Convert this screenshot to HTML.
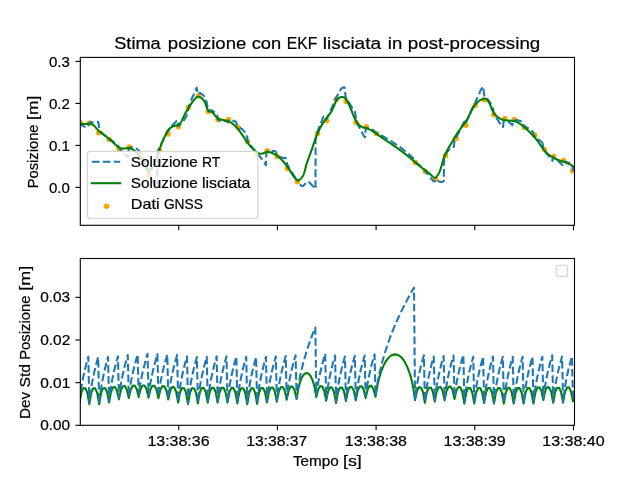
<!DOCTYPE html>
<html><head><meta charset="utf-8"><title>Stima posizione con EKF</title>
<style>html,body{margin:0;padding:0;background:#fff;overflow:hidden}svg{display:block}text{font-family:"Liberation Sans",sans-serif;fill:#000}.tx{filter:grayscale(1)}</style></head><body>
<svg width="638" height="478" viewBox="0 0 638 478">
<rect x="0" y="0" width="638" height="478" fill="#ffffff"/>
<defs>
<clipPath id="c1"><rect x="80.3" y="57.4" width="494.2" height="167.9"/></clipPath>
<clipPath id="c2"><rect x="80.3" y="258.5" width="494.2" height="166.8"/></clipPath>
</defs>
<g clip-path="url(#c1)" fill="none" stroke-linejoin="round">
<g fill="#ffa500" stroke="none">
<circle cx="80.30" cy="122.70" r="2.75"/>
<circle cx="89.40" cy="123.00" r="2.75"/>
<circle cx="98.70" cy="132.70" r="2.75"/>
<circle cx="109.10" cy="139.50" r="2.75"/>
<circle cx="119.00" cy="148.90" r="2.75"/>
<circle cx="129.30" cy="147.00" r="2.75"/>
<circle cx="140.00" cy="154.20" r="2.75"/>
<circle cx="149.30" cy="175.10" r="2.75"/>
<circle cx="159.50" cy="150.40" r="2.75"/>
<circle cx="168.10" cy="133.90" r="2.75"/>
<circle cx="178.50" cy="126.80" r="2.75"/>
<circle cx="188.40" cy="107.60" r="2.75"/>
<circle cx="198.60" cy="95.80" r="2.75"/>
<circle cx="208.10" cy="111.40" r="2.75"/>
<circle cx="218.00" cy="119.70" r="2.75"/>
<circle cx="228.60" cy="119.50" r="2.75"/>
<circle cx="238.10" cy="127.50" r="2.75"/>
<circle cx="247.40" cy="141.50" r="2.75"/>
<circle cx="256.80" cy="154.70" r="2.75"/>
<circle cx="267.30" cy="150.80" r="2.75"/>
<circle cx="277.20" cy="156.40" r="2.75"/>
<circle cx="287.30" cy="168.50" r="2.75"/>
<circle cx="297.40" cy="181.70" r="2.75"/>
<circle cx="317.60" cy="133.40" r="2.75"/>
<circle cx="326.70" cy="120.80" r="2.75"/>
<circle cx="336.20" cy="99.40" r="2.75"/>
<circle cx="346.10" cy="101.60" r="2.75"/>
<circle cx="356.00" cy="122.40" r="2.75"/>
<circle cx="366.40" cy="126.80" r="2.75"/>
<circle cx="376.30" cy="133.60" r="2.75"/>
<circle cx="415.30" cy="162.40" r="2.75"/>
<circle cx="425.20" cy="171.40" r="2.75"/>
<circle cx="435.80" cy="179.50" r="2.75"/>
<circle cx="445.50" cy="155.40" r="2.75"/>
<circle cx="456.20" cy="138.60" r="2.75"/>
<circle cx="465.80" cy="125.30" r="2.75"/>
<circle cx="475.30" cy="105.30" r="2.75"/>
<circle cx="484.20" cy="100.10" r="2.75"/>
<circle cx="493.80" cy="114.70" r="2.75"/>
<circle cx="504.80" cy="118.50" r="2.75"/>
<circle cx="514.30" cy="119.40" r="2.75"/>
<circle cx="524.30" cy="127.60" r="2.75"/>
<circle cx="534.80" cy="135.10" r="2.75"/>
<circle cx="544.30" cy="149.40" r="2.75"/>
<circle cx="553.70" cy="156.60" r="2.75"/>
<circle cx="563.60" cy="160.40" r="2.75"/>
<circle cx="572.60" cy="170.80" r="2.75"/>
</g>
<path d="M79.00,123.90 L81.30,125.10 L85.49,127.10 M88.33,126.32 L89.20,122.40 M89.20,122.40 L93.60,122.20 M96.89,121.91 L98.20,121.80 L99.30,128.05 M100.59,131.05 L101.50,132.60 L106.08,136.26 M108.66,138.33 L109.00,138.60 L114.77,142.95 M117.42,144.94 L117.50,145.00 L118.60,146.50 L120.80,150.10 L121.79,151.19 M124.05,153.62 L128.00,157.10 L128.20,154.72 M128.49,151.42 L128.80,147.80 L132.80,147.32 M135.92,148.20 L138.60,150.30 L139.60,152.50 L140.63,154.02 M142.49,156.76 L143.00,157.50 L145.43,163.81 M146.61,166.90 L148.00,170.50 L149.20,174.00 L149.24,174.09 M150.64,177.09 L152.00,180.00 L153.86,184.04 M155.37,186.99 L157.00,190.00 M157.03,188.20 L157.17,180.54 M157.24,177.23 L157.38,169.57 M157.44,166.26 L157.58,158.61 M157.64,155.30 L157.70,152.00 L159.00,149.00 L159.47,148.01 M160.88,145.02 L163.00,140.50 L164.19,138.11 M165.67,135.15 L167.50,131.50 L168.30,131.00 L169.78,128.82 M171.64,126.08 L171.90,125.70 L176.80,120.80 L177.01,120.64 M177.89,122.76 L178.30,126.30 L181.00,123.50 L181.14,123.35 M183.38,120.91 L184.50,119.70 L187.30,114.38 M187.78,111.12 L188.10,108.50 L189.85,103.79 M191.00,100.69 L191.70,98.80 L194.19,93.73 M195.46,90.68 L196.70,87.60 L197.41,91.88 M198.62,93.69 L199.90,92.90 L202.50,94.40 L204.50,96.83 M205.82,99.84 L206.50,101.60 L207.30,105.80 L207.49,107.29 M207.90,110.58 L207.90,110.60 L212.00,110.30 L214.66,112.61 M216.99,114.96 L217.20,115.20 L217.70,119.20 L220.45,121.03 M223.70,121.02 L224.00,121.00 L226.60,121.30 L228.00,122.60 L228.60,120.30 L229.06,120.30 M232.35,120.42 L235.90,121.70 L237.34,125.31 M239.63,127.54 L240.00,127.80 L242.50,129.40 L245.24,132.63 M246.98,135.33 L247.60,141.00 L248.73,142.60 M250.64,145.30 L251.00,145.80 L255.35,151.34 M257.15,154.10 L257.20,154.20 L259.30,155.90 L262.33,159.68 M264.26,162.36 L265.90,165.20 L266.06,160.82 M266.19,157.51 L266.40,151.80 L268.29,151.34 M271.55,150.92 L272.00,150.90 L274.70,151.00 L276.10,152.00 L276.78,154.71 M279.16,156.63 L279.50,156.80 L281.80,157.60 L285.70,158.10 L286.11,158.92 M286.73,162.14 L286.90,163.50 L288.50,167.00 L289.79,169.07 M291.55,171.87 L292.00,172.60 L295.66,178.34 M297.38,181.16 L297.40,181.20 M297.40,181.20 L297.79,181.73 M299.75,184.40 L299.90,184.60 M299.90,184.60 L301.40,185.80 L302.80,186.10 L304.30,185.00 L305.61,182.94 M308.32,181.81 L309.00,182.00 M309.00,182.00 L312.00,185.30 L313.98,187.28 M315.50,187.80 L315.52,180.34 M315.52,177.03 L315.54,169.37 M315.54,166.06 L315.56,158.40 M315.57,155.09 L315.58,147.43 M315.59,144.12 L315.60,138.50 L316.16,136.54 M317.08,133.36 L318.50,128.50 L319.55,126.12 M320.88,123.09 L321.40,121.90 L323.60,116.40 L324.03,116.44 M326.01,118.29 L326.30,119.50 L329.00,114.00 L329.12,113.74 M330.46,110.71 L333.00,105.00 L333.53,103.70 M334.78,100.63 L335.60,98.60 L336.20,97.40 L337.90,94.40 L338.20,93.79 M339.81,90.90 L341.00,89.00 L342.60,87.60 L344.40,87.40 L345.00,88.30 L345.02,88.70 M345.23,92.00 L345.50,96.50 L346.10,98.80 L346.56,99.42 M348.55,102.07 L349.40,103.20 L352.10,107.60 L352.72,108.49 M354.62,111.20 L354.90,111.60 L355.90,117.20 L356.24,118.64 M356.99,121.87 L357.60,124.50 L360.09,128.79 M361.63,131.72 L363.60,135.60 L365.00,137.20 L365.09,136.03 M365.33,132.73 L365.60,129.00 L366.40,127.80 L368.79,128.46 M371.93,129.52 L373.20,130.00 L375.30,132.00 L376.30,133.00 L378.09,133.85 M381.08,135.27 L382.00,135.70 L387.71,139.10 M390.55,140.80 L391.40,141.30 L396.95,145.02 M399.69,146.86 L400.80,147.60 L405.65,151.67 M408.18,153.80 L408.30,153.90 L413.96,158.82 M415.21,161.81 L419.00,164.80 L421.15,166.64 M423.67,168.79 L424.50,169.50 L425.30,171.00 L428.00,174.60 L428.23,174.89 M430.28,177.49 L431.00,178.40 L434.20,182.20 M434.20,182.20 L434.97,179.97 M437.59,181.12 L441.90,182.20 L443.80,181.00 L443.81,180.03 M443.84,176.72 L443.90,169.06 M443.93,165.75 L443.99,158.10 M445.12,155.05 L447.90,151.00 L449.84,149.06 M452.71,147.43 L453.90,146.80 L454.50,140.80 L454.63,140.55 M456.14,137.61 L458.00,134.00 L459.63,130.79 M461.13,127.83 L461.40,127.30 L463.60,122.80 L464.60,121.50 L464.71,121.90 M465.76,122.97 L468.00,118.00 L468.87,115.97 M470.17,112.93 L471.00,111.00 L473.37,105.97 M474.98,104.33 L476.20,100.10 L477.68,97.20 M479.14,94.23 L480.60,90.20 L482.44,87.37 M483.38,88.74 L483.60,90.00 L484.32,96.34 M486.60,98.47 L486.80,98.60 L488.80,100.60 L491.19,104.53 M492.58,107.52 L493.00,108.50 L493.80,113.40 L494.57,114.84 M496.16,117.74 L498.40,121.00 L500.41,124.11 M502.41,126.68 L503.00,127.00 L503.70,121.20 L504.83,121.36 M508.08,121.99 L509.30,122.30 L512.40,125.20 L512.99,123.13 M514.37,120.47 L516.80,120.00 L521.74,121.59 M523.39,123.94 L523.80,126.00 L527.50,127.90 L528.68,128.66 M531.42,130.51 L533.20,132.20 L533.90,135.50 L535.19,136.79 M537.61,139.05 L540.00,140.80 L542.60,142.80 M542.60,142.80 L543.30,148.20 L543.31,148.21 M544.86,151.14 L545.00,151.40 L548.80,156.20 L549.94,156.68 M551.74,159.26 L552.50,160.90 L553.20,156.90 L554.61,158.00 M557.22,160.04 L558.20,160.80 L562.00,164.80 L562.70,165.00 L562.72,164.83 M563.19,161.55 L563.20,161.50 L565.50,161.80 L567.70,162.30 L570.40,163.69 M572.37,165.97 L572.90,169.60 L575.82,172.33" stroke="#1f77b4" stroke-width="2.07"/>
<path d="M78.06,123.79 L78.60,123.78 L79.16,123.79 L79.73,123.81 L80.32,123.84 L80.91,123.87 L81.51,123.90 L82.12,123.93 L82.73,123.96 L83.35,123.98 L83.97,123.99 L84.60,123.99 L85.22,123.98 L85.84,123.95 L86.45,123.90 L87.06,123.85 L87.67,123.80 L88.26,123.76 L88.85,123.73 L89.43,123.72 L89.99,123.74 L90.54,123.80 L91.07,123.91 L91.59,124.06 L92.09,124.28 L92.57,124.54 L93.04,124.85 L93.49,125.20 L93.94,125.58 L94.37,126.00 L94.80,126.44 L95.23,126.90 L95.64,127.37 L96.06,127.86 L96.48,128.35 L96.89,128.85 L97.31,129.34 L97.74,129.81 L98.17,130.28 L98.61,130.72 L99.06,131.15 L99.51,131.56 L99.97,131.95 L100.43,132.33 L100.90,132.70 L101.37,133.06 L101.84,133.42 L102.32,133.76 L102.80,134.10 L103.28,134.44 L103.75,134.78 L104.23,135.11 L104.71,135.45 L105.18,135.79 L105.65,136.14 L106.12,136.49 L106.59,136.85 L107.05,137.22 L107.51,137.58 L107.97,137.96 L108.42,138.34 L108.87,138.72 L109.33,139.10 L109.78,139.49 L110.23,139.89 L110.68,140.28 L111.13,140.69 L111.57,141.09 L112.02,141.50 L112.47,141.90 L112.92,142.32 L113.37,142.73 L113.82,143.14 L114.27,143.56 L114.72,143.98 L115.17,144.40 L115.63,144.82 L116.08,145.24 L116.54,145.66 L117.01,146.07 L117.48,146.47 L117.95,146.85 L118.43,147.21 L118.93,147.53 L119.43,147.83 L119.94,148.08 L120.47,148.30 L121.00,148.46 L121.56,148.57 L122.13,148.62 L122.71,148.63 L123.30,148.61 L123.90,148.56 L124.51,148.49 L125.12,148.41 L125.74,148.32 L126.36,148.25 L126.98,148.18 L127.60,148.14 L128.21,148.13 L128.82,148.15 L129.42,148.23 L130.01,148.34 L130.59,148.50 L131.16,148.69 L131.71,148.92 L132.25,149.17 L132.77,149.46 L133.27,149.77 L133.76,150.10 L134.24,150.45 L134.71,150.83 L135.16,151.22 L135.60,151.63 L136.04,152.05 L136.46,152.49 L136.88,152.94 L137.28,153.39 L137.69,153.85 L138.08,154.32 L138.47,154.79 L138.86,155.26 L139.24,155.73 L139.62,156.20 L140.00,156.66 L140.37,157.11 L140.75,157.56 L141.13,158.00 L141.50,158.44 L141.87,158.88 L142.23,159.32 L142.59,159.77 L142.93,160.24 L143.27,160.72 L143.59,161.22 L143.90,161.75 L144.19,162.31 L144.47,162.89 L144.72,163.52 L144.95,164.18 L145.17,164.88 L145.37,165.59 L145.57,166.31 L145.77,167.01 L145.98,167.68 L146.20,168.31 L146.43,168.89 L146.70,169.39 L146.99,169.81 L147.32,170.13 L147.69,170.33 L148.11,170.40 L148.58,170.35 L149.08,170.17 L149.60,169.91 L150.14,169.56 L150.68,169.14 L151.20,168.68 L151.70,168.20 L152.17,167.69 L152.59,167.19 L152.98,166.67 L153.34,166.16 L153.67,165.63 L153.98,165.11 L154.26,164.57 L154.52,164.04 L154.77,163.50 L155.00,162.95 L155.23,162.40 L155.45,161.85 L155.66,161.30 L155.87,160.75 L156.08,160.19 L156.27,159.63 L156.47,159.06 L156.66,158.50 L156.85,157.94 L157.04,157.37 L157.22,156.80 L157.41,156.24 L157.59,155.67 L157.76,155.11 L157.94,154.54 L158.12,153.97 L158.29,153.41 L158.47,152.84 L158.65,152.28 L158.82,151.72 L159.00,151.15 L159.18,150.59 L159.36,150.03 L159.54,149.47 L159.72,148.91 L159.91,148.34 L160.09,147.78 L160.28,147.22 L160.48,146.66 L160.67,146.10 L160.87,145.54 L161.08,144.97 L161.29,144.41 L161.50,143.85 L161.72,143.29 L161.94,142.73 L162.17,142.16 L162.40,141.60 L162.64,141.04 L162.89,140.47 L163.14,139.91 L163.40,139.34 L163.66,138.78 L163.93,138.21 L164.21,137.65 L164.48,137.09 L164.76,136.53 L165.02,135.97 L165.29,135.42 L165.54,134.87 L165.79,134.33 L166.04,133.80 L166.28,133.27 L166.53,132.75 L166.78,132.24 L167.05,131.74 L167.33,131.25 L167.64,130.78 L167.96,130.31 L168.32,129.86 L168.70,129.42 L169.11,129.00 L169.54,128.59 L170.00,128.20 L170.48,127.83 L170.98,127.49 L171.50,127.16 L172.03,126.86 L172.58,126.58 L173.14,126.33 L173.72,126.11 L174.31,125.92 L174.90,125.75 L175.50,125.62 L176.10,125.49 L176.69,125.36 L177.26,125.21 L177.80,125.02 L178.31,124.79 L178.79,124.50 L179.23,124.17 L179.65,123.80 L180.04,123.38 L180.41,122.94 L180.76,122.46 L181.09,121.95 L181.40,121.42 L181.70,120.88 L181.98,120.31 L182.26,119.74 L182.53,119.16 L182.79,118.57 L183.06,117.99 L183.32,117.41 L183.59,116.84 L183.85,116.28 L184.13,115.72 L184.40,115.18 L184.68,114.64 L184.96,114.10 L185.24,113.58 L185.52,113.05 L185.81,112.54 L186.10,112.03 L186.39,111.52 L186.68,111.02 L186.98,110.52 L187.27,110.02 L187.57,109.53 L187.87,109.03 L188.17,108.54 L188.47,108.06 L188.78,107.57 L189.08,107.08 L189.39,106.59 L189.70,106.11 L190.01,105.62 L190.33,105.13 L190.65,104.64 L190.98,104.15 L191.31,103.65 L191.65,103.15 L192.00,102.65 L192.35,102.15 L192.72,101.64 L193.09,101.14 L193.48,100.64 L193.87,100.14 L194.28,99.65 L194.70,99.18 L195.13,98.71 L195.58,98.26 L196.04,97.83 L196.51,97.44 L197.00,97.11 L197.50,96.85 L198.02,96.69 L198.56,96.65 L199.11,96.73 L199.67,96.90 L200.23,97.17 L200.79,97.51 L201.33,97.92 L201.86,98.37 L202.37,98.86 L202.84,99.38 L203.29,99.90 L203.69,100.42 L204.05,100.93 L204.37,101.41 L204.64,101.88 L204.88,102.34 L205.09,102.79 L205.28,103.25 L205.46,103.73 L205.63,104.23 L205.81,104.76 L205.99,105.32 L206.19,105.91 L206.40,106.52 L206.62,107.13 L206.86,107.76 L207.12,108.37 L207.39,108.97 L207.68,109.55 L208.00,110.09 L208.33,110.59 L208.70,111.01 L209.08,111.36 L209.50,111.60 L209.94,111.74 L210.40,111.81 L210.87,111.87 L211.33,111.98 L211.78,112.17 L212.22,112.43 L212.65,112.76 L213.08,113.15 L213.49,113.58 L213.91,114.05 L214.32,114.55 L214.73,115.05 L215.15,115.56 L215.56,116.07 L215.99,116.56 L216.42,117.02 L216.86,117.44 L217.31,117.83 L217.77,118.18 L218.25,118.50 L218.75,118.78 L219.26,119.03 L219.80,119.25 L220.35,119.43 L220.92,119.59 L221.51,119.72 L222.11,119.84 L222.72,119.95 L223.33,120.05 L223.94,120.15 L224.56,120.26 L225.16,120.37 L225.77,120.49 L226.36,120.64 L226.94,120.80 L227.50,120.98 L228.06,121.18 L228.61,121.40 L229.15,121.63 L229.67,121.89 L230.19,122.15 L230.70,122.44 L231.19,122.74 L231.68,123.05 L232.16,123.38 L232.64,123.72 L233.10,124.08 L233.56,124.44 L234.00,124.82 L234.44,125.21 L234.88,125.61 L235.30,126.03 L235.72,126.45 L236.14,126.88 L236.54,127.32 L236.95,127.77 L237.34,128.22 L237.73,128.68 L238.12,129.15 L238.50,129.63 L238.87,130.11 L239.24,130.60 L239.61,131.09 L239.97,131.58 L240.33,132.08 L240.69,132.58 L241.04,133.08 L241.39,133.59 L241.74,134.09 L242.09,134.60 L242.43,135.10 L242.77,135.61 L243.12,136.12 L243.45,136.62 L243.79,137.13 L244.13,137.63 L244.47,138.14 L244.81,138.64 L245.15,139.14 L245.49,139.64 L245.83,140.14 L246.17,140.63 L246.52,141.12 L246.86,141.61 L247.21,142.10 L247.56,142.58 L247.92,143.06 L248.28,143.54 L248.64,144.01 L249.00,144.48 L249.37,144.94 L249.75,145.40 L250.13,145.86 L250.51,146.30 L250.90,146.75 L251.30,147.19 L251.70,147.62 L252.11,148.05 L252.53,148.47 L252.95,148.88 L253.38,149.29 L253.82,149.69 L254.26,150.08 L254.72,150.47 L255.18,150.85 L255.65,151.22 L256.13,151.58 L256.63,151.93 L257.13,152.28 L257.64,152.61 L258.16,152.94 L258.69,153.23 L259.23,153.48 L259.78,153.67 L260.34,153.77 L260.91,153.78 L261.48,153.71 L262.05,153.57 L262.64,153.40 L263.22,153.20 L263.81,152.98 L264.41,152.77 L265.00,152.58 L265.60,152.40 L266.20,152.25 L266.80,152.14 L267.39,152.07 L267.99,152.05 L268.59,152.07 L269.18,152.14 L269.77,152.24 L270.36,152.38 L270.94,152.55 L271.51,152.75 L272.08,152.97 L272.65,153.22 L273.20,153.48 L273.75,153.76 L274.29,154.05 L274.82,154.35 L275.35,154.67 L275.86,154.99 L276.37,155.32 L276.86,155.66 L277.35,156.01 L277.83,156.37 L278.31,156.73 L278.77,157.11 L279.23,157.49 L279.68,157.88 L280.13,158.28 L280.57,158.69 L281.00,159.10 L281.42,159.52 L281.84,159.94 L282.25,160.37 L282.66,160.81 L283.06,161.26 L283.45,161.70 L283.84,162.16 L284.23,162.62 L284.61,163.08 L284.98,163.55 L285.35,164.02 L285.71,164.49 L286.07,164.97 L286.43,165.45 L286.78,165.94 L287.13,166.43 L287.47,166.92 L287.81,167.41 L288.15,167.90 L288.48,168.40 L288.81,168.89 L289.14,169.39 L289.47,169.89 L289.79,170.39 L290.11,170.89 L290.43,171.39 L290.74,171.89 L291.06,172.39 L291.37,172.89 L291.69,173.39 L292.01,173.89 L292.34,174.38 L292.67,174.88 L293.00,175.37 L293.35,175.86 L293.70,176.35 L294.07,176.84 L294.45,177.32 L294.84,177.80 L295.25,178.28 L295.67,178.75 L296.11,179.23 L296.57,179.68 L297.05,180.04 L297.55,180.27 L298.06,180.32 L298.59,180.21 L299.12,179.98 L299.64,179.65 L300.15,179.25 L300.63,178.82 L301.08,178.36 L301.49,177.90 L301.87,177.42 L302.23,176.93 L302.56,176.42 L302.86,175.91 L303.14,175.38 L303.40,174.85 L303.64,174.31 L303.86,173.76 L304.07,173.20 L304.26,172.64 L304.44,172.07 L304.61,171.50 L304.77,170.92 L304.92,170.34 L305.07,169.76 L305.21,169.17 L305.35,168.59 L305.49,168.00 L305.64,167.41 L305.78,166.83 L305.94,166.24 L306.09,165.66 L306.26,165.08 L306.43,164.50 L306.61,163.92 L306.79,163.35 L306.97,162.78 L307.16,162.20 L307.36,161.63 L307.56,161.07 L307.76,160.50 L307.96,159.93 L308.17,159.37 L308.38,158.80 L308.59,158.24 L308.80,157.67 L309.01,157.11 L309.23,156.55 L309.44,155.98 L309.65,155.42 L309.86,154.86 L310.07,154.29 L310.28,153.73 L310.49,153.17 L310.69,152.60 L310.89,152.03 L311.09,151.47 L311.29,150.90 L311.49,150.34 L311.68,149.77 L311.88,149.20 L312.07,148.63 L312.26,148.07 L312.45,147.50 L312.64,146.93 L312.83,146.36 L313.02,145.80 L313.21,145.23 L313.40,144.66 L313.59,144.10 L313.78,143.53 L313.98,142.96 L314.17,142.40 L314.36,141.83 L314.56,141.27 L314.76,140.71 L314.95,140.14 L315.16,139.58 L315.36,139.02 L315.56,138.46 L315.77,137.90 L315.98,137.34 L316.20,136.78 L316.41,136.23 L316.63,135.67 L316.85,135.12 L317.08,134.57 L317.31,134.02 L317.54,133.47 L317.78,132.92 L318.02,132.37 L318.26,131.83 L318.51,131.28 L318.76,130.74 L319.02,130.20 L319.28,129.67 L319.55,129.13 L319.82,128.60 L320.09,128.06 L320.37,127.53 L320.65,127.01 L320.94,126.48 L321.23,125.96 L321.53,125.44 L321.83,124.92 L322.14,124.40 L322.45,123.89 L322.77,123.38 L323.09,122.87 L323.42,122.37 L323.75,121.86 L324.09,121.36 L324.44,120.87 L324.79,120.37 L325.15,119.88 L325.51,119.39 L325.88,118.91 L326.25,118.42 L326.62,117.94 L326.99,117.46 L327.37,116.98 L327.74,116.50 L328.12,116.02 L328.49,115.55 L328.85,115.07 L329.22,114.59 L329.57,114.10 L329.92,113.62 L330.26,113.14 L330.60,112.65 L330.92,112.16 L331.23,111.66 L331.53,111.17 L331.82,110.67 L332.09,110.16 L332.35,109.65 L332.60,109.14 L332.84,108.62 L333.08,108.09 L333.30,107.56 L333.53,107.02 L333.75,106.47 L333.98,105.92 L334.21,105.36 L334.44,104.79 L334.69,104.21 L334.94,103.62 L335.20,103.04 L335.47,102.45 L335.76,101.88 L336.07,101.31 L336.40,100.76 L336.74,100.23 L337.11,99.73 L337.50,99.25 L337.92,98.81 L338.36,98.41 L338.83,98.05 L339.34,97.74 L339.87,97.48 L340.44,97.28 L341.02,97.13 L341.62,97.04 L342.21,97.02 L342.80,97.06 L343.38,97.16 L343.94,97.34 L344.46,97.59 L344.95,97.91 L345.39,98.30 L345.79,98.76 L346.15,99.27 L346.49,99.82 L346.80,100.39 L347.10,100.96 L347.39,101.54 L347.68,102.10 L347.96,102.66 L348.23,103.21 L348.49,103.76 L348.75,104.31 L349.00,104.85 L349.25,105.38 L349.50,105.91 L349.74,106.45 L349.97,106.98 L350.20,107.50 L350.43,108.03 L350.66,108.56 L350.88,109.09 L351.10,109.63 L351.32,110.16 L351.54,110.70 L351.75,111.25 L351.97,111.79 L352.18,112.34 L352.40,112.90 L352.62,113.46 L352.83,114.02 L353.06,114.58 L353.28,115.14 L353.51,115.70 L353.74,116.26 L353.98,116.81 L354.23,117.37 L354.49,117.92 L354.75,118.47 L355.02,119.01 L355.30,119.55 L355.59,120.08 L355.90,120.61 L356.21,121.13 L356.54,121.64 L356.88,122.14 L357.23,122.63 L357.60,123.11 L357.99,123.58 L358.39,124.04 L358.81,124.48 L359.25,124.92 L359.71,125.34 L360.18,125.74 L360.67,126.11 L361.18,126.46 L361.69,126.78 L362.22,127.05 L362.76,127.28 L363.30,127.47 L363.85,127.62 L364.40,127.75 L364.95,127.86 L365.51,127.99 L366.06,128.12 L366.60,128.28 L367.15,128.46 L367.69,128.66 L368.23,128.88 L368.77,129.11 L369.30,129.35 L369.84,129.62 L370.37,129.89 L370.89,130.18 L371.42,130.48 L371.94,130.79 L372.46,131.11 L372.98,131.44 L373.50,131.77 L374.02,132.11 L374.53,132.46 L375.04,132.81 L375.55,133.16 L376.06,133.52 L376.57,133.87 L377.07,134.23 L377.58,134.58 L378.08,134.93 L378.58,135.28 L379.08,135.63 L379.58,135.98 L380.08,136.32 L380.58,136.66 L381.07,137.00 L381.57,137.34 L382.06,137.68 L382.56,138.02 L383.05,138.35 L383.54,138.69 L384.03,139.02 L384.53,139.35 L385.02,139.69 L385.51,140.02 L386.00,140.35 L386.49,140.68 L386.98,141.01 L387.47,141.35 L387.96,141.68 L388.45,142.01 L388.94,142.34 L389.43,142.68 L389.92,143.01 L390.41,143.35 L390.90,143.68 L391.39,144.02 L391.88,144.35 L392.37,144.69 L392.86,145.03 L393.35,145.37 L393.83,145.71 L394.32,146.05 L394.81,146.39 L395.30,146.73 L395.79,147.07 L396.27,147.41 L396.76,147.76 L397.25,148.10 L397.73,148.45 L398.22,148.80 L398.70,149.15 L399.19,149.50 L399.67,149.85 L400.16,150.20 L400.64,150.55 L401.12,150.91 L401.60,151.26 L402.08,151.62 L402.56,151.98 L403.04,152.34 L403.52,152.70 L404.00,153.06 L404.48,153.43 L404.96,153.79 L405.43,154.16 L405.91,154.53 L406.38,154.90 L406.86,155.27 L407.33,155.65 L407.80,156.02 L408.27,156.40 L408.74,156.78 L409.21,157.16 L409.68,157.55 L410.15,157.93 L410.61,158.32 L411.08,158.71 L411.54,159.10 L412.01,159.49 L412.47,159.88 L412.93,160.28 L413.39,160.68 L413.85,161.08 L414.31,161.48 L414.76,161.88 L415.22,162.29 L415.68,162.69 L416.13,163.09 L416.58,163.49 L417.04,163.88 L417.49,164.27 L417.95,164.66 L418.40,165.05 L418.86,165.43 L419.31,165.81 L419.76,166.18 L420.22,166.55 L420.67,166.91 L421.13,167.27 L421.59,167.62 L422.04,167.98 L422.50,168.33 L422.96,168.67 L423.42,169.02 L423.88,169.37 L424.35,169.71 L424.81,170.06 L425.28,170.41 L425.74,170.75 L426.21,171.10 L426.68,171.46 L427.15,171.81 L427.63,172.17 L428.10,172.53 L428.58,172.90 L429.06,173.28 L429.54,173.67 L430.03,174.07 L430.51,174.49 L430.99,174.92 L431.48,175.38 L431.96,175.85 L432.44,176.35 L432.93,176.83 L433.41,177.26 L433.89,177.60 L434.38,177.81 L434.86,177.85 L435.33,177.69 L435.80,177.37 L436.26,176.94 L436.70,176.44 L437.12,175.92 L437.50,175.39 L437.87,174.86 L438.21,174.33 L438.53,173.79 L438.84,173.24 L439.12,172.70 L439.38,172.15 L439.63,171.59 L439.87,171.04 L440.09,170.48 L440.29,169.92 L440.49,169.36 L440.68,168.80 L440.86,168.23 L441.03,167.67 L441.19,167.11 L441.35,166.54 L441.51,165.97 L441.67,165.41 L441.82,164.84 L441.97,164.28 L442.12,163.71 L442.27,163.15 L442.42,162.58 L442.57,162.02 L442.73,161.45 L442.89,160.89 L443.05,160.33 L443.21,159.77 L443.39,159.20 L443.56,158.64 L443.75,158.08 L443.94,157.52 L444.13,156.97 L444.34,156.41 L444.56,155.85 L444.78,155.30 L445.02,154.74 L445.27,154.19 L445.52,153.64 L445.78,153.09 L446.05,152.54 L446.33,152.00 L446.61,151.45 L446.90,150.91 L447.19,150.37 L447.48,149.83 L447.78,149.29 L448.08,148.75 L448.38,148.22 L448.69,147.68 L448.99,147.15 L449.30,146.62 L449.61,146.09 L449.92,145.57 L450.24,145.04 L450.55,144.52 L450.86,144.00 L451.17,143.48 L451.48,142.96 L451.79,142.44 L452.10,141.93 L452.41,141.41 L452.71,140.90 L453.02,140.39 L453.31,139.88 L453.61,139.37 L453.90,138.87 L454.20,138.36 L454.49,137.86 L454.78,137.36 L455.07,136.86 L455.37,136.36 L455.66,135.86 L455.97,135.37 L456.27,134.87 L456.58,134.38 L456.90,133.89 L457.23,133.40 L457.56,132.91 L457.89,132.42 L458.23,131.94 L458.58,131.45 L458.93,130.97 L459.28,130.48 L459.63,130.00 L459.99,129.51 L460.35,129.03 L460.71,128.54 L461.08,128.06 L461.44,127.57 L461.81,127.08 L462.17,126.60 L462.53,126.11 L462.90,125.62 L463.26,125.13 L463.62,124.64 L463.97,124.14 L464.33,123.65 L464.68,123.15 L465.02,122.65 L465.37,122.15 L465.70,121.64 L466.03,121.14 L466.36,120.63 L466.68,120.11 L466.99,119.60 L467.30,119.08 L467.60,118.56 L467.89,118.03 L468.17,117.50 L468.45,116.97 L468.72,116.44 L468.99,115.91 L469.26,115.37 L469.52,114.83 L469.78,114.30 L470.04,113.76 L470.29,113.22 L470.55,112.69 L470.81,112.15 L471.07,111.62 L471.34,111.09 L471.61,110.56 L471.88,110.03 L472.16,109.50 L472.44,108.98 L472.73,108.46 L473.03,107.95 L473.33,107.44 L473.65,106.94 L473.97,106.44 L474.31,105.95 L474.65,105.46 L475.01,104.99 L475.37,104.52 L475.75,104.06 L476.14,103.61 L476.55,103.17 L476.96,102.74 L477.40,102.32 L477.84,101.91 L478.30,101.52 L478.78,101.14 L479.27,100.77 L479.78,100.42 L480.30,100.09 L480.85,99.77 L481.41,99.46 L481.99,99.19 L482.57,98.95 L483.16,98.78 L483.75,98.70 L484.33,98.70 L484.91,98.81 L485.46,99.00 L485.99,99.26 L486.49,99.57 L486.95,99.93 L487.39,100.33 L487.79,100.76 L488.17,101.23 L488.52,101.72 L488.84,102.24 L489.15,102.77 L489.43,103.33 L489.70,103.89 L489.96,104.46 L490.20,105.04 L490.44,105.62 L490.66,106.20 L490.89,106.77 L491.11,107.34 L491.33,107.89 L491.55,108.43 L491.78,108.96 L492.01,109.48 L492.26,110.00 L492.52,110.51 L492.79,111.02 L493.07,111.53 L493.38,112.04 L493.71,112.54 L494.05,113.05 L494.41,113.55 L494.78,114.04 L495.18,114.53 L495.58,115.01 L496.01,115.47 L496.44,115.92 L496.89,116.35 L497.35,116.77 L497.83,117.16 L498.31,117.54 L498.81,117.89 L499.31,118.21 L499.83,118.51 L500.35,118.78 L500.89,119.03 L501.43,119.25 L501.97,119.45 L502.53,119.63 L503.09,119.79 L503.65,119.93 L504.22,120.05 L504.80,120.16 L505.38,120.26 L505.96,120.34 L506.55,120.41 L507.14,120.47 L507.73,120.52 L508.32,120.57 L508.92,120.61 L509.51,120.64 L510.11,120.67 L510.70,120.71 L511.29,120.74 L511.89,120.78 L512.48,120.82 L513.07,120.89 L513.65,120.97 L514.23,121.08 L514.81,121.22 L515.39,121.38 L515.95,121.59 L516.52,121.83 L517.08,122.10 L517.63,122.39 L518.17,122.70 L518.71,123.03 L519.24,123.37 L519.76,123.71 L520.27,124.06 L520.77,124.41 L521.27,124.77 L521.76,125.13 L522.24,125.49 L522.72,125.86 L523.19,126.23 L523.65,126.60 L524.11,126.98 L524.56,127.36 L525.01,127.74 L525.46,128.13 L525.90,128.52 L526.33,128.92 L526.77,129.32 L527.20,129.72 L527.63,130.12 L528.05,130.53 L528.48,130.94 L528.90,131.36 L529.32,131.78 L529.74,132.20 L530.16,132.62 L530.58,133.05 L531.01,133.48 L531.43,133.91 L531.85,134.35 L532.27,134.79 L532.68,135.23 L533.10,135.68 L533.51,136.13 L533.93,136.58 L534.33,137.03 L534.74,137.49 L535.14,137.95 L535.53,138.41 L535.92,138.88 L536.31,139.34 L536.69,139.81 L537.06,140.29 L537.43,140.76 L537.78,141.24 L538.14,141.72 L538.48,142.20 L538.83,142.68 L539.16,143.17 L539.50,143.65 L539.83,144.14 L540.16,144.62 L540.49,145.11 L540.82,145.59 L541.15,146.07 L541.48,146.56 L541.82,147.04 L542.16,147.51 L542.50,147.99 L542.85,148.46 L543.20,148.93 L543.56,149.39 L543.92,149.85 L544.30,150.31 L544.68,150.76 L545.07,151.21 L545.48,151.65 L545.89,152.08 L546.32,152.51 L546.76,152.93 L547.21,153.34 L547.66,153.75 L548.13,154.15 L548.61,154.54 L549.09,154.92 L549.59,155.30 L550.09,155.66 L550.59,156.01 L551.11,156.36 L551.63,156.69 L552.15,157.02 L552.68,157.33 L553.21,157.63 L553.75,157.92 L554.29,158.19 L554.83,158.46 L555.38,158.72 L555.93,158.97 L556.48,159.21 L557.03,159.44 L557.59,159.67 L558.15,159.89 L558.71,160.10 L559.27,160.31 L559.83,160.52 L560.39,160.72 L560.95,160.92 L561.51,161.12 L562.07,161.31 L562.64,161.51 L563.20,161.71 L563.76,161.90 L564.32,162.10 L564.87,162.30 L565.43,162.51 L565.99,162.72 L566.54,162.93 L567.09,163.15 L567.64,163.37 L568.18,163.60 L568.72,163.84 L569.26,164.09 L569.80,164.35 L570.33,164.61 L570.86,164.89 L571.38,165.17 L571.90,165.47 L572.41,165.78 L572.92,166.10 L573.42,166.44 L573.92,166.79 L574.41,167.16 L574.90,167.54 L575.38,167.94 L575.85,168.36" stroke="#008000" stroke-width="2.07" stroke-linecap="square"/>
</g>
<g clip-path="url(#c2)" fill="none" stroke-linejoin="round">
<path d="M79.43,403.31 L81.40,392.36 L83.38,388.12 L85.35,388.20 L87.33,392.63 L89.30,404.00 L91.27,392.68 L93.25,388.32 L95.22,388.35 L97.20,392.80 L99.17,404.28 L101.14,392.72 L103.12,388.17 L105.09,387.96 L107.07,392.02 L109.04,402.46 L111.01,391.74 L112.99,387.31 L114.96,386.93 L116.94,390.46 L118.91,399.37 L120.88,390.15 L122.86,386.27 L124.83,386.10 L126.81,389.59 L128.78,398.08 L130.75,389.41 L132.73,385.72 L134.70,385.59 L136.68,388.98 L138.65,397.11 L140.62,388.94 L142.60,385.51 L144.57,385.57 L146.55,389.16 L148.52,397.62 L150.49,389.24 L152.47,385.76 L154.44,385.84 L156.42,389.51 L158.39,398.23 L160.36,389.65 L162.34,386.14 L164.31,386.31 L166.29,390.21 L168.26,399.56 L170.23,390.51 L172.21,386.97 L174.18,387.35 L176.16,391.79 L178.13,402.62 L180.10,392.06 L182.08,387.97 L184.05,388.16 L186.03,392.69 L188.00,404.19 L189.97,392.73 L191.95,388.26 L193.92,388.17 L195.90,392.42 L197.87,403.39 L199.84,392.33 L201.82,387.97 L203.79,387.87 L205.77,392.02 L207.74,402.60 L209.71,391.97 L211.69,387.77 L213.66,387.77 L215.64,391.97 L217.61,402.60 L219.58,391.97 L221.56,387.77 L223.53,387.77 L225.51,391.97 L227.48,402.61 L229.45,392.02 L231.43,387.87 L233.40,387.97 L235.38,392.33 L237.35,403.41 L239.32,392.42 L241.30,388.17 L243.27,388.26 L245.25,392.73 L247.22,404.20 L249.19,392.75 L251.17,388.31 L253.14,388.26 L255.12,392.59 L257.09,403.79 L259.06,392.51 L261.04,388.06 L263.01,387.92 L264.99,392.04 L266.96,402.59 L268.93,391.93 L270.91,387.67 L272.88,387.57 L274.86,391.61 L276.83,401.77 L278.80,391.44 L280.78,387.18 L282.75,386.94 L284.73,390.61 L286.70,399.80 L288.67,390.47 L290.65,386.64 L292.62,386.64 L294.60,390.47 L296.57,399.04 L298.54,387.70 L300.52,380.80 L302.49,376.42 L304.47,373.90 L306.44,372.98 L308.41,373.58 L310.39,375.74 L312.36,379.70 L314.34,385.98 L316.31,397.10 L318.28,389.13 L320.26,385.98 L322.23,386.46 L324.21,390.72 L326.18,400.74 L328.15,391.12 L330.13,387.35 L332.10,387.64 L334.08,392.09 L336.05,403.08 L338.02,392.11 L340.00,387.68 L341.97,387.43 L343.95,391.26 L345.92,400.99 L347.89,391.09 L349.87,387.06 L351.84,386.98 L353.82,390.85 L355.79,400.36 L357.76,390.65 L359.74,386.55 L361.71,386.25 L363.69,389.67 L365.66,398.10 L367.63,389.49 L369.61,385.89 L371.58,385.89 L373.56,389.49 L375.53,396.69 L377.50,384.99 L379.48,376.87 L381.45,370.71 L383.43,365.88 L385.40,362.10 L387.37,359.17 L389.35,356.99 L391.32,355.49 L393.30,354.62 L395.27,354.36 L397.24,354.71 L399.22,355.67 L401.19,357.27 L403.17,359.55 L405.14,362.59 L407.11,366.51 L409.09,371.51 L411.06,377.91 L413.04,386.40 L415.01,400.15 L416.98,390.81 L418.96,387.16 L420.93,387.48 L422.91,391.92 L424.88,402.79 L426.85,392.01 L428.83,387.69 L430.80,387.55 L432.78,391.52 L434.75,401.58 L436.72,391.38 L438.70,387.22 L440.67,387.07 L442.65,390.88 L444.62,400.37 L446.59,390.70 L448.57,386.67 L450.54,386.48 L452.52,390.07 L454.49,398.99 L456.46,390.28 L458.44,386.94 L460.41,387.52 L462.39,392.21 L464.36,403.60 L466.33,392.47 L468.31,388.14 L470.28,388.14 L472.26,392.47 L474.23,403.59 L476.20,392.45 L478.18,388.08 L480.15,388.02 L482.13,392.25 L484.10,403.11 L486.07,392.25 L488.05,388.02 L490.02,388.08 L492.00,392.45 L493.97,403.60 L495.94,392.47 L497.92,388.14 L499.89,388.14 L501.87,392.47 L503.84,403.60 L505.81,392.47 L507.79,388.14 L509.76,388.14 L511.74,392.47 L513.71,403.60 L515.68,392.47 L517.66,388.14 L519.63,388.14 L521.61,392.47 L523.58,403.60 L525.55,392.47 L527.53,388.14 L529.50,388.14 L531.48,392.47 L533.45,403.56 L535.42,392.28 L537.40,387.67 L539.37,387.24 L541.35,390.81 L543.32,400.05 L545.29,390.77 L547.27,387.13 L549.24,387.47 L551.22,391.91 L553.19,402.80 L555.16,392.06 L557.14,387.81 L559.11,387.77 L561.09,391.94 L563.06,402.48 L565.03,391.85 L567.01,387.56 L568.98,387.40 L570.96,391.32 L572.93,401.22 L574.90,391.34 L576.88,387.44 L578.85,387.64 L580.83,391.98 L582.80,402.80 L584.77,392.08 L586.75,387.85 L588.72,387.85 L590.70,392.08" stroke="#008000" stroke-width="2.07" stroke-linecap="square"/>
<path d="M79.43,402.19 L80.32,394.58 M80.78,391.30 L81.40,387.07 L81.98,383.74 M82.58,380.48 L83.38,376.42 L84.12,372.98 M84.86,369.76 L85.35,367.71 L86.34,363.81 L86.74,362.33 M87.62,359.14 L88.31,356.68 L88.42,361.78 M88.49,365.09 L88.65,372.75 M88.72,376.06 L88.89,383.72 M88.96,387.03 L89.12,394.69 M89.19,398.00 L89.30,402.99 L89.60,400.34 M89.98,397.05 L90.29,394.29 L90.99,389.46 M91.51,386.19 L92.26,381.84 L92.88,378.66 M93.55,375.41 L94.23,372.23 L95.22,368.02 L95.24,367.94 M96.05,364.74 L96.21,364.11 L97.20,360.43 L98.07,357.35 M98.24,359.85 L98.41,367.51 M98.48,370.82 L98.64,378.47 M98.71,381.78 L98.87,389.44 M98.94,392.75 L99.11,400.41 M99.21,402.94 L100.07,395.33 M100.52,392.05 L101.14,387.75 L101.70,384.49 M102.28,381.23 L103.12,376.95 L103.81,373.72 M104.54,370.49 L105.09,368.15 L106.08,364.23 L106.39,363.06 M107.26,359.87 L108.05,357.06 L108.16,361.80 M108.23,365.11 L108.40,372.77 M108.48,376.08 L108.65,383.74 M108.72,387.05 L108.89,394.70 M108.97,398.01 L109.04,401.27 L109.57,396.90 M109.96,393.61 L110.03,393.03 L111.01,386.50 L111.09,386.04 M111.67,382.78 L112.00,380.93 L112.99,375.98 L113.15,375.26 M113.85,372.03 L113.97,371.48 L114.96,367.33 L115.66,364.59 M116.51,361.39 L116.94,359.82 L117.92,356.36 L117.98,358.80 M118.06,362.11 L118.24,369.77 M118.32,373.08 L118.50,380.73 M118.58,384.04 L118.77,391.70 M118.85,395.01 L118.91,397.63 L119.58,392.64 M120.04,389.36 L120.88,384.15 L121.32,381.81 M121.93,378.55 L122.86,374.10 L123.55,371.07 M124.31,367.85 L124.83,365.73 L125.82,361.95 L126.24,360.43 M127.14,357.25 L127.79,355.01 L127.92,360.34 M128.00,363.65 L128.18,371.30 M128.26,374.61 L128.45,382.27 M128.53,385.58 L128.71,393.24 M128.85,395.58 L129.77,388.98 L129.93,387.99 M130.48,384.73 L130.75,383.08 L131.74,377.90 L131.89,377.20 M132.58,373.96 L132.73,373.24 L133.72,368.96 L134.32,366.51 M135.15,363.30 L135.69,361.25 L136.68,357.73 L137.21,355.92 M137.70,356.08 L137.89,363.74 M137.97,367.05 L138.16,374.71 M138.24,378.02 L138.43,385.67 M138.51,388.98 L138.65,394.84 L138.91,393.06 M139.38,389.78 L139.64,388.00 L140.62,382.22 M141.25,378.97 L141.61,377.14 L142.60,372.54 L142.85,371.48 M143.60,368.26 L144.57,364.38 L145.52,360.84 M146.42,357.66 L146.55,357.19 L147.53,353.87 L147.62,357.58 M147.70,360.89 L147.88,368.55 M147.96,371.86 L148.14,379.51 M148.22,382.82 L148.40,390.48 M148.48,393.79 L148.52,395.45 L149.36,389.51 M149.89,386.24 L150.49,382.65 L151.25,378.71 M151.92,375.46 L152.47,372.89 L153.45,368.64 L153.61,367.99 M154.42,364.78 L154.44,364.69 L155.43,360.97 L156.42,357.46 L156.44,357.39 M157.37,354.22 L157.40,354.13 L157.58,361.69 M157.66,365.00 L157.84,372.66 M157.91,375.97 L158.09,383.63 M158.17,386.94 L158.35,394.60 M158.63,394.47 L159.38,389.08 L159.74,386.89 M160.28,383.63 L160.36,383.16 L161.35,377.98 L161.75,376.11 M162.44,372.87 L163.32,369.02 L164.22,365.42 M165.06,362.22 L165.30,361.31 L166.29,357.78 L167.15,354.85 M167.34,357.30 L167.51,364.96 M167.59,368.27 L167.76,375.93 M167.84,379.23 L168.01,386.89 M168.09,390.20 L168.26,397.75 L168.27,397.64 M168.71,394.36 L169.25,390.33 L169.82,386.78 M170.36,383.52 L171.22,378.92 L171.83,376.00 M172.53,372.76 L173.19,369.82 L174.18,365.78 L174.30,365.31 M175.14,362.11 L175.17,362.01 L176.16,358.44 L177.14,355.06 L177.15,355.39 M177.22,358.70 L177.38,366.36 M177.45,369.67 L177.62,377.33 M177.69,380.64 L177.85,388.29 M177.92,391.60 L178.08,399.26 M178.27,400.22 L179.12,393.12 L179.20,392.61 M179.69,389.34 L180.10,386.58 L180.95,381.79 M181.58,378.54 L182.08,376.03 L183.06,371.53 L183.18,371.04 M183.94,367.83 L184.05,367.38 L185.04,363.50 L185.88,360.41 M186.78,357.23 L187.01,356.41 L187.15,363.22 M187.22,366.53 L187.39,374.19 M187.46,377.49 L187.62,385.15 M187.69,388.46 L187.85,396.12 M187.92,399.43 L188.00,403.22 L188.43,399.38 M188.81,396.09 L188.99,394.46 L189.85,388.50 M190.39,385.23 L190.96,381.95 L191.79,377.70 M192.48,374.46 L192.94,372.32 L193.92,368.11 L194.20,367.00 M195.02,363.79 L195.90,360.51 L196.88,357.02 L196.89,357.65 M196.97,360.96 L197.13,368.62 M197.21,371.93 L197.37,379.59 M197.45,382.90 L197.61,390.56 M197.69,393.87 L197.85,401.52 M198.16,399.80 L198.86,393.80 L199.10,392.20 M199.58,388.93 L199.84,387.14 L200.83,381.48 L200.85,381.37 M201.49,378.13 L201.82,376.47 L202.81,371.93 L203.11,370.64 M203.87,367.42 L204.78,363.85 L205.77,360.19 L205.82,360.01 M206.72,356.83 L206.75,356.72 L206.92,364.27 M206.99,367.58 L207.16,375.24 M207.23,378.55 L207.40,386.20 M207.48,389.51 L207.65,397.17 M207.72,400.48 L207.74,401.39 L208.54,394.69 M208.99,391.41 L209.71,386.58 L210.19,383.84 M210.78,380.59 L211.69,376.03 L212.33,373.09 M213.07,369.86 L213.66,367.38 L214.65,363.50 L214.94,362.43 M215.82,359.24 L216.62,356.41 L216.72,361.13 M216.80,364.44 L216.97,372.09 M217.04,375.40 L217.21,383.06 M217.28,386.37 L217.45,394.03 M217.52,397.34 L217.61,401.39 L218.04,397.81 M218.43,394.52 L218.60,393.12 L219.53,386.94 M220.09,383.68 L220.57,380.99 L221.53,376.16 M222.24,372.92 L222.54,371.53 L223.53,367.38 L224.02,365.47 M224.85,362.27 L225.51,359.86 L226.49,356.41 L226.52,357.98 M226.60,361.29 L226.77,368.95 M226.84,372.26 L227.01,379.92 M227.08,383.23 L227.25,390.89 M227.32,394.20 L227.48,401.39 L227.54,400.93 M227.93,397.64 L228.47,393.12 L228.93,390.05 M229.42,386.78 L229.45,386.58 L230.44,380.99 L230.79,379.24 M231.44,375.99 L232.41,371.53 L233.13,368.52 M233.93,365.31 L234.39,363.50 L235.38,359.86 L235.93,357.92 M236.40,358.15 L236.56,365.81 M236.63,369.12 L236.80,376.78 M236.87,380.09 L237.04,387.75 M237.11,391.05 L237.27,398.71 M237.34,402.02 L237.35,402.31 L238.20,394.99 M238.65,391.71 L239.32,387.14 L239.84,384.14 M240.43,380.88 L241.30,376.47 L241.97,373.38 M242.70,370.15 L243.27,367.75 L244.26,363.85 L244.56,362.72 M245.44,359.53 L246.23,356.72 L246.33,361.46 M246.40,364.77 L246.56,372.43 M246.63,375.73 L246.80,383.39 M246.87,386.70 L247.03,394.36 M247.10,397.67 L247.22,403.22 L247.46,401.13 M247.83,397.84 L248.21,394.46 L248.82,390.24 M249.31,386.97 L250.18,381.95 L250.67,379.43 M251.32,376.19 L252.15,372.32 L253.00,368.71 M253.80,365.50 L254.13,364.19 L255.12,360.51 L255.80,358.10 M256.15,359.20 L256.31,366.86 M256.38,370.17 L256.55,377.83 M256.62,381.14 L256.79,388.80 M256.86,392.11 L257.03,399.76 M257.13,402.45 L258.00,394.84 M258.45,391.56 L259.06,387.41 L259.65,384.00 M260.24,380.74 L261.04,376.69 L261.78,373.24 M262.52,370.01 L263.01,367.93 L264.00,364.02 L264.39,362.58 M265.26,359.39 L265.97,356.87 L266.08,361.91 M266.16,365.22 L266.33,372.88 M266.40,376.19 L266.57,383.85 M266.64,387.16 L266.81,394.81 M266.89,398.12 L266.96,401.39 L267.48,397.03 M267.88,393.74 L267.95,393.12 L268.93,386.58 L269.00,386.17 M269.58,382.91 L269.92,380.99 L270.91,376.03 L271.05,375.39 M271.75,372.15 L271.89,371.53 L272.88,367.38 L273.56,364.71 M274.41,361.51 L274.86,359.86 L275.84,356.41 L275.89,358.77 M275.97,362.08 L276.14,369.74 M276.21,373.05 L276.39,380.71 M276.46,384.01 L276.63,391.67 M276.71,394.98 L276.83,400.46 L277.10,398.30 M277.50,395.01 L277.82,392.42 L278.58,387.43 M279.13,384.16 L279.79,380.48 L280.57,376.64 M281.26,373.40 L281.76,371.11 L282.75,366.99 L283.02,365.95 M283.85,362.75 L284.73,359.51 L285.71,356.08 L285.73,356.82 M285.81,360.13 L285.99,367.79 M286.06,371.10 L286.24,378.75 M286.32,382.06 L286.50,389.72 M286.58,393.03 L286.70,398.10 L287.04,395.53 M287.47,392.25 L287.69,390.61 L288.64,384.68 M289.23,381.43 L289.66,379.13 L290.65,374.36 L290.75,373.92 M291.47,370.69 L291.63,369.99 L292.62,365.95 L293.32,363.26 M294.19,360.06 L294.60,358.59 L295.58,355.20 L295.64,357.80 M295.72,361.11 L295.89,368.77 M295.97,372.08 L296.15,379.74 M296.22,383.05 L296.40,390.70 M296.48,394.01 L296.57,398.10 L297.04,394.56 M297.47,391.28 L297.56,390.61 L298.54,384.47 L298.68,383.71 M299.28,380.46 L299.53,379.13 L300.52,374.36 L300.83,372.96 M301.56,369.73 L302.49,365.95 L303.44,362.30 M304.32,359.11 L304.47,358.59 L305.45,355.20 L306.44,351.96 L306.50,351.77 M307.51,348.62 L308.41,345.89 L309.40,343.02 L309.99,341.37 M311.12,338.26 L311.38,337.56 L312.36,334.96 L313.35,332.43 L313.88,331.11 M315.12,328.05 L315.32,327.56 L315.43,334.69 M315.47,338.00 L315.59,345.66 M315.64,348.97 L315.75,356.63 M315.80,359.94 L315.91,367.60 M315.96,370.91 L316.07,378.57 M316.12,381.88 L316.23,389.54 M316.28,392.85 L316.31,394.72 L317.14,388.99 M317.67,385.72 L318.28,382.14 L319.05,378.19 M319.73,374.95 L320.26,372.47 L321.25,368.25 L321.44,367.49 M322.24,364.27 L323.22,360.63 L324.21,357.14 L324.28,356.89 M325.19,353.93 L325.36,361.59 M325.43,364.90 L325.60,372.55 M325.67,375.86 L325.84,383.52 M325.91,386.83 L326.08,394.49 M326.15,397.80 L326.18,399.17 L326.98,392.93 M327.45,389.66 L328.15,385.17 L328.71,382.10 M329.32,378.85 L330.13,374.92 L330.92,371.36 M331.69,368.14 L332.10,366.43 L333.09,362.61 L333.61,360.72 M334.50,357.54 L335.06,355.60 L335.18,361.24 M335.25,364.55 L335.41,372.21 M335.49,375.52 L335.65,383.18 M335.72,386.49 L335.88,394.15 M335.95,397.45 L336.05,401.96 L336.42,398.83 M336.80,395.54 L337.04,393.54 L337.87,387.96 M338.41,384.69 L339.01,381.30 L339.83,377.16 M340.52,373.93 L340.98,371.78 L341.97,367.61 L342.26,366.47 M343.08,363.26 L343.95,360.07 L344.93,356.60 L344.95,357.35 M345.02,360.66 L345.20,368.31 M345.28,371.62 L345.45,379.28 M345.53,382.59 L345.71,390.25 M345.78,393.56 L345.92,399.52 L346.13,397.84 M346.55,394.55 L346.91,391.71 L347.65,386.97 M348.20,383.71 L348.88,379.96 L349.65,376.19 M350.35,372.95 L350.86,370.68 L351.84,366.58 L352.12,365.50 M352.96,362.30 L353.82,359.15 L354.80,355.74 L354.82,356.59 M354.90,359.89 L355.07,367.55 M355.15,370.86 L355.32,378.52 M355.40,381.83 L355.58,389.49 M355.65,392.80 L355.79,398.82 L356.00,397.20 M356.42,393.92 L356.78,391.16 L357.54,386.34 M358.10,383.08 L358.75,379.55 L359.57,375.56 M360.28,372.33 L360.72,370.34 L361.71,366.27 L362.07,364.88 M362.92,361.68 L363.69,358.88 L364.67,355.47 L364.70,356.68 M364.78,359.99 L364.97,367.64 M365.05,370.95 L365.23,378.61 M365.32,381.92 L365.50,389.58 M365.58,392.89 L365.66,396.06 L366.28,391.62 M366.76,388.34 L367.63,383.08 L368.07,380.80 M368.70,377.55 L369.61,373.24 L370.34,370.06 M371.12,366.85 L371.58,364.98 L372.57,361.25 L373.08,359.44 M373.99,356.26 L374.54,354.38 L374.68,360.08 M374.75,363.39 L374.94,371.05 M375.01,374.35 L375.20,382.01 M375.27,385.32 L375.46,392.98 M375.56,395.83 L376.52,388.98 L376.64,388.25 M377.18,384.99 L377.50,383.08 L378.49,377.90 L378.58,377.46 M379.27,374.22 L379.48,373.24 L380.46,368.96 L381.01,366.76 M381.83,363.55 L382.44,361.25 L383.43,357.73 L383.89,356.17 M384.84,353.00 L385.40,351.18 L386.39,348.12 L387.19,345.71 M388.27,342.58 L388.36,342.32 L389.35,339.57 L390.33,336.91 L390.91,335.39 M392.11,332.31 L392.31,331.81 L393.30,329.36 L394.28,326.97 L395.02,325.22 M396.34,322.19 L397.24,320.13 L398.23,317.95 L399.22,315.81 L399.50,315.21 M400.92,312.22 L401.19,311.66 L402.18,309.63 L403.17,307.64 L404.15,305.69 L404.32,305.36 M405.84,302.42 L406.13,301.87 L407.11,300.01 L408.10,298.17 L409.09,296.36 L409.47,295.67 M411.08,292.78 L412.05,291.07 L413.04,289.35 L414.02,287.66 L414.04,289.42 M414.07,292.73 L414.13,300.39 M414.16,303.70 L414.23,311.36 M414.26,314.67 L414.33,322.33 M414.36,325.64 L414.43,333.29 M414.46,336.60 L414.53,344.26 M414.56,347.57 L414.62,355.23 M414.65,358.54 L414.72,366.20 M414.75,369.51 L414.82,377.17 M414.85,380.48 L414.92,388.14 M414.95,391.45 L415.01,398.46 L415.09,397.81 M415.52,394.53 L416.00,390.89 L416.62,386.95 M417.17,383.69 L417.97,379.34 L418.63,376.17 M419.32,372.93 L419.94,370.17 L420.93,366.11 L421.09,365.48 M421.93,362.28 L422.91,358.73 L423.89,355.34 L423.90,355.79 M423.97,359.10 L424.13,366.76 M424.21,370.07 L424.37,377.73 M424.44,381.04 L424.60,388.69 M424.67,392.00 L424.84,399.66 M425.04,400.28 L425.87,393.29 L425.96,392.67 M426.45,389.40 L426.85,386.72 L427.71,381.85 M428.34,378.60 L428.83,376.14 L429.81,371.63 L429.94,371.10 M430.70,367.88 L430.80,367.47 L431.79,363.59 L432.64,360.47 M433.53,357.29 L433.76,356.48 L433.91,363.30 M433.99,366.61 L434.16,374.27 M434.24,377.58 L434.41,385.23 M434.49,388.54 L434.66,396.20 M434.73,399.51 L434.75,400.23 L435.60,393.34 M436.07,390.07 L436.72,385.85 L437.32,382.51 M437.93,379.26 L438.70,375.46 L439.52,371.76 M440.28,368.54 L440.67,366.89 L441.66,363.04 L442.18,361.12 M443.07,357.93 L443.63,355.99 L443.76,361.63 M443.84,364.94 L444.01,372.59 M444.09,375.90 L444.27,383.56 M444.34,386.87 L444.52,394.53 M444.60,397.84 L444.62,398.82 L445.48,392.20 M445.96,388.92 L446.59,384.94 L447.25,381.37 M447.87,378.12 L448.57,374.73 L449.49,370.64 M450.26,367.42 L450.54,366.27 L451.53,362.46 L452.21,360.01 M453.11,356.83 L453.50,355.47 L453.65,361.72 M453.73,365.03 L453.91,372.68 M453.99,375.99 L454.17,383.65 M454.25,386.96 L454.43,394.62 M454.61,396.14 L455.48,389.76 L455.68,388.55 M456.21,385.29 L456.46,383.74 L457.45,378.49 L457.60,377.76 M458.28,374.52 L458.44,373.78 L459.42,369.45 L460.01,367.06 M460.83,363.85 L461.40,361.69 L462.39,358.14 L462.88,356.47 M463.40,356.31 L463.56,363.97 M463.63,367.28 L463.79,374.94 M463.86,378.25 L464.02,385.91 M464.08,389.22 L464.24,396.87 M464.31,400.18 L464.36,402.54 L464.97,397.27 M465.35,393.98 L465.35,393.96 L466.33,387.27 L466.48,386.41 M467.05,383.15 L467.32,381.60 L468.31,376.58 L468.51,375.63 M469.21,372.39 L469.29,372.03 L470.28,367.84 L471.01,364.95 M471.86,361.75 L472.26,360.27 L473.24,356.80 L473.29,359.32 M473.37,362.63 L473.53,370.29 M473.60,373.60 L473.77,381.26 M473.84,384.56 L474.01,392.22 M474.08,395.53 L474.23,402.54 L474.30,401.89 M474.68,398.61 L475.22,393.96 L475.65,391.01 M476.13,387.73 L476.20,387.27 L477.19,381.60 L477.47,380.19 M478.11,376.94 L478.18,376.58 L479.16,372.03 L479.77,369.47 M480.55,366.25 L481.14,363.94 L482.13,360.27 L482.53,358.85 M483.14,357.98 L483.30,365.64 M483.38,368.95 L483.54,376.60 M483.62,379.91 L483.78,387.57 M483.86,390.88 L484.03,398.54 M484.10,401.85 L484.10,401.96 L484.98,394.46 M485.44,391.18 L486.07,386.93 L486.65,383.62 M487.25,380.37 L488.05,376.31 L488.80,372.86 M489.54,369.64 L490.02,367.61 L491.01,363.72 L491.42,362.21 M492.30,359.02 L492.98,356.60 L493.09,361.74 M493.16,365.05 L493.33,372.71 M493.40,376.02 L493.56,383.68 M493.63,386.99 L493.80,394.64 M493.87,397.95 L493.97,402.54 L494.32,399.49 M494.70,396.20 L494.96,393.96 L495.74,388.61 M496.28,385.35 L496.93,381.60 L497.68,377.82 M498.35,374.57 L498.90,372.03 L499.89,367.84 L500.07,367.11 M500.89,363.90 L501.87,360.27 L502.85,356.80 L502.86,357.09 M502.93,360.40 L503.09,368.06 M503.17,371.37 L503.33,379.03 M503.40,382.33 L503.57,389.99 M503.64,393.30 L503.81,400.96 M504.04,400.82 L504.83,393.96 L504.94,393.21 M505.42,389.94 L505.81,387.27 L506.66,382.38 M507.29,379.13 L507.79,376.58 L508.77,372.03 L508.86,371.64 M509.62,368.41 L509.76,367.84 L510.75,363.94 L511.54,361.00 M512.43,357.81 L512.72,356.80 L512.86,363.41 M512.93,366.72 L513.10,374.37 M513.17,377.68 L513.34,385.34 M513.41,388.65 L513.58,396.31 M513.65,399.62 L513.71,402.54 L514.25,397.83 M514.63,394.54 L514.70,393.96 L515.68,387.27 L515.73,386.96 M516.30,383.70 L516.67,381.60 L517.66,376.58 L517.75,376.18 M518.44,372.95 L518.64,372.03 L519.63,367.84 L520.22,365.50 M521.06,362.29 L521.61,360.27 L522.59,356.80 L522.63,358.76 M522.70,362.07 L522.87,369.72 M522.94,373.03 L523.11,380.69 M523.18,384.00 L523.34,391.66 M523.42,394.97 L523.58,402.54 L523.59,402.45 M523.97,399.17 L524.57,393.96 L524.92,391.57 M525.40,388.29 L525.55,387.27 L526.54,381.60 L526.71,380.74 M527.35,377.50 L527.53,376.58 L528.51,372.03 L528.99,370.01 M529.76,366.80 L530.49,363.94 L531.48,360.27 L531.73,359.39 M532.47,357.42 L532.64,365.07 M532.71,368.38 L532.88,376.04 M532.95,379.35 L533.11,387.01 M533.19,390.32 L533.35,397.98 M533.42,401.28 L533.45,402.54 L534.18,396.18 M534.60,392.89 L535.42,387.27 L535.76,385.32 M536.33,382.06 L536.41,381.60 L537.40,376.58 L537.84,374.55 M538.55,371.32 L539.37,367.84 L540.36,363.94 L540.38,363.88 M541.24,360.69 L541.35,360.27 L542.33,356.80 L542.42,360.42 M542.50,363.73 L542.68,371.39 M542.76,374.70 L542.94,382.36 M543.02,385.67 L543.20,393.32 M543.28,396.63 L543.32,398.34 L544.09,392.44 M544.57,389.16 L545.29,384.62 L545.85,381.61 M546.47,378.36 L547.27,374.48 L548.08,370.87 M548.85,367.65 L549.24,366.06 L550.23,362.26 L550.79,360.24 M551.69,357.06 L552.20,355.29 L552.32,361.11 M552.40,364.42 L552.56,372.08 M552.63,375.39 L552.79,383.04 M552.86,386.35 L553.03,394.01 M553.10,397.32 L553.19,401.62 L553.59,398.28 M553.98,395.00 L554.18,393.29 L555.06,387.41 M555.61,384.15 L556.15,381.11 L557.04,376.63 M557.74,373.39 L558.12,371.63 L559.11,367.47 L559.50,365.94 M560.33,362.73 L561.09,359.94 L562.07,356.48 L562.10,357.65 M562.17,360.96 L562.34,368.62 M562.41,371.93 L562.58,379.58 M562.65,382.89 L562.82,390.55 M562.90,393.86 L563.06,401.27 L563.09,401.02 M563.48,397.74 L564.05,393.03 L564.48,390.14 M564.97,386.87 L565.03,386.50 L566.02,380.93 L566.34,379.33 M566.99,376.09 L567.01,375.98 L567.99,371.48 L568.67,368.61 M569.47,365.40 L569.97,363.46 L570.96,359.82 L571.47,358.01 M571.98,357.96 L572.15,365.61 M572.23,368.92 L572.40,376.58 M572.48,379.89 L572.65,387.55 M572.73,390.86 L572.90,398.52 M573.19,397.71 L573.92,391.89 L574.19,390.12 M574.70,386.85 L574.90,385.55 L575.89,380.09 L576.05,379.31 M576.71,376.06 L576.88,375.22 L577.86,370.79 L578.39,368.59 M579.19,365.38 L579.84,362.85 L580.83,359.25 L581.19,357.99 M581.83,356.88 L582.00,364.54 M582.07,367.84 L582.24,375.50 M582.31,378.81 L582.47,386.47 M582.54,389.78 L582.71,397.44 M582.78,400.75 L582.80,401.62 L583.60,394.88 M584.04,391.60 L584.77,386.72 L585.24,384.04 M585.83,380.78 L586.75,376.14 L587.37,373.28 M588.11,370.05 L588.72,367.47 L589.71,363.59 L589.97,362.62 M590.85,359.43 L591.68,356.48" stroke="#1f77b4" stroke-width="2.07"/>
</g>
<g>
<rect x="87.4" y="151.3" width="170.5" height="67" rx="2.8" ry="2.8" fill="#ffffff" fill-opacity="0.8" stroke="#cccccc" stroke-opacity="0.8" stroke-width="1.35"/>
<path d="M91.9,161.7 L120.2,161.7" stroke="#1f77b4" stroke-width="2.07" stroke-dasharray="7.66 3.31" fill="none"/>
<path d="M91.9,183.2 L120.2,183.2" stroke="#008000" stroke-width="2.07" stroke-linecap="square" fill="none"/>
<circle cx="106.5" cy="206.3" r="2.75" fill="#ffa500"/>
<g class="tx">
<text x="130.74" y="166.6" font-size="14.4" textLength="67.02" lengthAdjust="spacingAndGlyphs" stroke="#000" stroke-width="0.22">Soluzione</text>
<text x="202.01" y="166.6" font-size="14.4" textLength="18.29" lengthAdjust="spacingAndGlyphs" stroke="#000" stroke-width="0.22">RT</text>
<text x="130.74" y="187.7" font-size="14.4" textLength="67.02" lengthAdjust="spacingAndGlyphs" stroke="#000" stroke-width="0.22">Soluzione</text>
<text x="202.00" y="187.7" font-size="14.4" textLength="48.4" lengthAdjust="spacingAndGlyphs" stroke="#000" stroke-width="0.22">lisciata</text>
<text x="130.84" y="208.8" font-size="14.4" textLength="28.64" lengthAdjust="spacingAndGlyphs" stroke="#000" stroke-width="0.22">Dati</text>
<text x="163.88" y="208.8" font-size="14.4" textLength="38.96" lengthAdjust="spacingAndGlyphs" stroke="#000" stroke-width="0.22">GNSS</text>
</g>
</g>
<rect x="556.2" y="265.4" width="11.3" height="11.1" rx="2.8" ry="2.8" fill="#ffffff" fill-opacity="0.8" stroke="#cccccc" stroke-opacity="0.8" stroke-width="1.35"/>
<g fill="none" stroke="#000" stroke-width="1.1" stroke-linecap="square">
<rect x="80.3" y="57.4" width="494.2" height="167.9"/>
<rect x="80.3" y="258.5" width="494.2" height="166.8"/>
</g>
<g stroke="#000" stroke-width="1.1" fill="none">
<path d="M178.7,225.3 v4.9"/>
<path d="M178.7,425.3 v4.9"/>
<path d="M277.4,225.3 v4.9"/>
<path d="M277.4,425.3 v4.9"/>
<path d="M376.1,225.3 v4.9"/>
<path d="M376.1,425.3 v4.9"/>
<path d="M474.8,225.3 v4.9"/>
<path d="M474.8,425.3 v4.9"/>
<path d="M573.5,225.3 v4.9"/>
<path d="M573.5,425.3 v4.9"/>
<path d="M80.3,187.40 h-4.9"/>
<path d="M80.3,145.40 h-4.9"/>
<path d="M80.3,103.40 h-4.9"/>
<path d="M80.3,61.40 h-4.9"/>
<path d="M80.3,425.30 h-4.9"/>
<path d="M80.3,382.65 h-4.9"/>
<path d="M80.3,340.00 h-4.9"/>
<path d="M80.3,297.35 h-4.9"/>
</g>
<g class="tx">
<text x="48.97" y="192.5" font-size="14.2" textLength="20.87" lengthAdjust="spacingAndGlyphs" stroke="#000" stroke-width="0.22">0.0</text>
<text x="48.97" y="150.5" font-size="14.2" textLength="21.01" lengthAdjust="spacingAndGlyphs" stroke="#000" stroke-width="0.22">0.1</text>
<text x="48.97" y="108.5" font-size="14.2" textLength="21.01" lengthAdjust="spacingAndGlyphs" stroke="#000" stroke-width="0.22">0.2</text>
<text x="48.97" y="66.5" font-size="14.2" textLength="20.87" lengthAdjust="spacingAndGlyphs" stroke="#000" stroke-width="0.22">0.3</text>
<text x="40.26" y="430.4" font-size="14.2" textLength="29.92" lengthAdjust="spacingAndGlyphs" stroke="#000" stroke-width="0.22">0.00</text>
<text x="40.26" y="387.75" font-size="14.2" textLength="30.06" lengthAdjust="spacingAndGlyphs" stroke="#000" stroke-width="0.22">0.01</text>
<text x="40.26" y="345.1" font-size="14.2" textLength="30.06" lengthAdjust="spacingAndGlyphs" stroke="#000" stroke-width="0.22">0.02</text>
<text x="40.26" y="302.45" font-size="14.2" textLength="29.92" lengthAdjust="spacingAndGlyphs" stroke="#000" stroke-width="0.22">0.03</text>
<text x="147.43" y="446.0" font-size="14.2" textLength="62.15" lengthAdjust="spacingAndGlyphs" stroke="#000" stroke-width="0.22">13:38:36</text>
<text x="246.16" y="446.0" font-size="14.2" textLength="61.06" lengthAdjust="spacingAndGlyphs" stroke="#000" stroke-width="0.22">13:38:37</text>
<text x="344.83" y="446.0" font-size="14.2" textLength="62.15" lengthAdjust="spacingAndGlyphs" stroke="#000" stroke-width="0.22">13:38:38</text>
<text x="443.53" y="446.0" font-size="14.2" textLength="62.15" lengthAdjust="spacingAndGlyphs" stroke="#000" stroke-width="0.22">13:38:39</text>
<text x="542.23" y="446.0" font-size="14.2" textLength="62.46" lengthAdjust="spacingAndGlyphs" stroke="#000" stroke-width="0.22">13:38:40</text>
<text x="292.90" y="465.7" font-size="14.4" textLength="45.91" lengthAdjust="spacingAndGlyphs" stroke="#000" stroke-width="0.22">Tempo</text>
<text x="342.96" y="465.7" font-size="14.4" textLength="18.88" lengthAdjust="spacingAndGlyphs" stroke="#000" stroke-width="0.22">[s]</text>
<text x="114.21" y="48.8" font-size="17.2" textLength="46.53" lengthAdjust="spacingAndGlyphs" stroke="#000" stroke-width="0.22">Stima</text>
<text x="167.89" y="48.8" font-size="17.2" textLength="78.42" lengthAdjust="spacingAndGlyphs" stroke="#000" stroke-width="0.22">posizione</text>
<text x="251.70" y="48.8" font-size="17.2" textLength="29.57" lengthAdjust="spacingAndGlyphs" stroke="#000" stroke-width="0.22">con</text>
<text x="286.85" y="48.8" font-size="17.2" textLength="30.37" lengthAdjust="spacingAndGlyphs" stroke="#000" stroke-width="0.22">EKF</text>
<text x="322.85" y="48.8" font-size="17.2" textLength="58.3" lengthAdjust="spacingAndGlyphs" stroke="#000" stroke-width="0.22">lisciata</text>
<text x="387.89" y="48.8" font-size="17.2" textLength="14.44" lengthAdjust="spacingAndGlyphs" stroke="#000" stroke-width="0.22">in</text>
<text x="407.87" y="48.8" font-size="17.2" textLength="132.4" lengthAdjust="spacingAndGlyphs" stroke="#000" stroke-width="0.22">post-processing</text>
<text transform="translate(37.9,0) rotate(-90)" x="-188.35" y="0" font-size="14.4" textLength="63.92" lengthAdjust="spacingAndGlyphs" stroke="#000" stroke-width="0.22">Posizione</text>
<text transform="translate(37.9,0) rotate(-90)" x="-119.91" y="0" font-size="14.4" textLength="24.2" lengthAdjust="spacingAndGlyphs" stroke="#000" stroke-width="0.22">[m]</text>
<text transform="translate(30.0,0) rotate(-90)" x="-419.00" y="0" font-size="14.4" textLength="27.2" lengthAdjust="spacingAndGlyphs" stroke="#000" stroke-width="0.22">Dev</text>
<text transform="translate(30.0,0) rotate(-90)" x="-387.58" y="0" font-size="14.4" textLength="23.55" lengthAdjust="spacingAndGlyphs" stroke="#000" stroke-width="0.22">Std</text>
<text transform="translate(30.0,0) rotate(-90)" x="-359.86" y="0" font-size="14.4" textLength="64.34" lengthAdjust="spacingAndGlyphs" stroke="#000" stroke-width="0.22">Posizione</text>
<text transform="translate(30.0,0) rotate(-90)" x="-290.74" y="0" font-size="14.4" textLength="24.87" lengthAdjust="spacingAndGlyphs" stroke="#000" stroke-width="0.22">[m]</text>
</g>
</svg></body></html>
